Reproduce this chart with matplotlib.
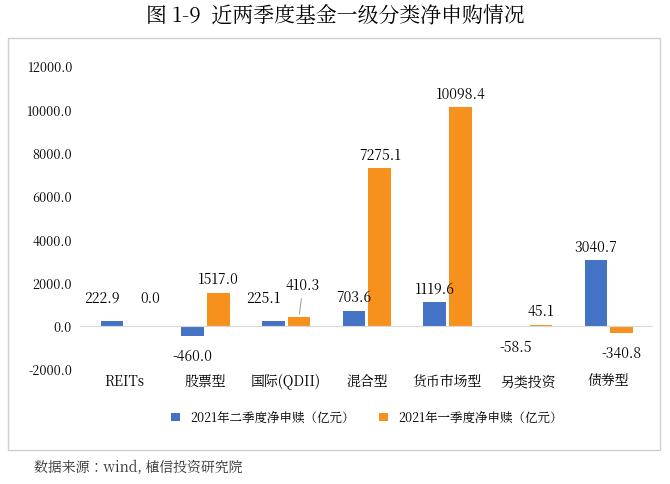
import matplotlib.pyplot as plt
import numpy as np
from matplotlib.patches import Rectangle
from matplotlib import font_manager

# pick whatever CJK font matplotlib actually knows about
cjk = [f.name for f in font_manager.fontManager.ttflist if 'CJK' in f.name]
pref = [n for n in cjk if n.endswith('SC')] or cjk
plt.rcParams['font.family'] = (pref[:1] if pref else []) + ['DejaVu Sans']

categories = ['REITs', '股票型', '国际(QDII)', '混合型', '货币市场型', '另类投资', '债券型']
q2 = [222.9, -460.0, 225.1, 703.6, 1119.6, -58.5, 3040.7]
q1 = [0.0, 1517.0, 410.3, 7275.1, 10098.4, 45.1, -340.8]
yticks = [-2000, 0, 2000, 4000, 6000, 8000, 10000, 12000]

fig = plt.figure(figsize=(6.7, 4.85), dpi=100)
ax = fig.add_axes([0.12, 0.237, 0.855, 0.625])
x = np.arange(len(categories))
w = 0.28
blue = '#4472C4'
orange = '#F7911E'
ax.bar(x - w / 2 - 0.02, q2, w, color=blue, label='2021年二季度净申赎（亿元）')
ax.bar(x + w / 2 + 0.02, q1, w, color=orange, label='2021年一季度净申赎（亿元）')
ax.set_ylim(-2000, 12000)
ax.set_xlim(-0.55, len(categories) - 0.45)
ax.set_yticks(yticks)
ax.set_yticklabels(['%.1f' % v for v in yticks], fontsize=9)
ax.set_xticks(x)
ax.set_xticklabels(categories, fontsize=10)
ax.tick_params(length=0, pad=6)
ax.tick_params(axis='x', pad=3)
for s in ax.spines.values():
    s.set_visible(False)
ax.axhline(0, color='#D9D9D9', lw=0.8)

# value labels
for i in range(len(categories)):
    for vals, dx, o in ((q2, -w / 2 - 0.02, 0), (q1, w / 2 + 0.02, 1)):
        v = vals[i]
        xx = x[i] + dx
        if (i == 0 and o == 0) or (i == 2 and o == 0):
            ax.text(xx - 0.12, v + 700, '%.1f' % v, ha='center', va='bottom', fontsize=10)
        elif (i == 0 and o == 1):
            ax.text(xx + 0.15, 900, '%.1f' % v, ha='center', va='bottom', fontsize=10)
        elif (i == 2 and o == 1):
            ax.annotate('%.1f' % v, (xx, v), (xx + 0.05, v + 1100), ha='center', va='bottom', fontsize=10,
                        arrowprops=dict(arrowstyle='-', color='#A6A6A6', lw=0.8))
        elif v >= 0:
            ax.text(xx, v + 250, '%.1f' % v, ha='center', va='bottom', fontsize=10)
        else:
            ax.text(xx, v - 550, '%.1f' % v, ha='center', va='top', fontsize=10)

ax.legend(loc='upper center', bbox_to_anchor=(0.5, -0.1), ncol=2, frameon=False, fontsize=9,
          handlelength=0.7, handleheight=0.7, columnspacing=2)

fig.patches.append(Rectangle((0.012, 0.07), 0.973, 0.85, transform=fig.transFigure,
                             fill=False, edgecolor='#D0D0D0', lw=1))
fig.text(0.5, 0.965, '图 1-9  近两季度基金一级分类净申购情况', ha='center', va='center', fontsize=15)
fig.text(0.05, 0.035, '数据来源：wind, 植信投资研究院', ha='left', va='center', fontsize=10, color='#333333')
fig.savefig('out.png', dpi=100)
